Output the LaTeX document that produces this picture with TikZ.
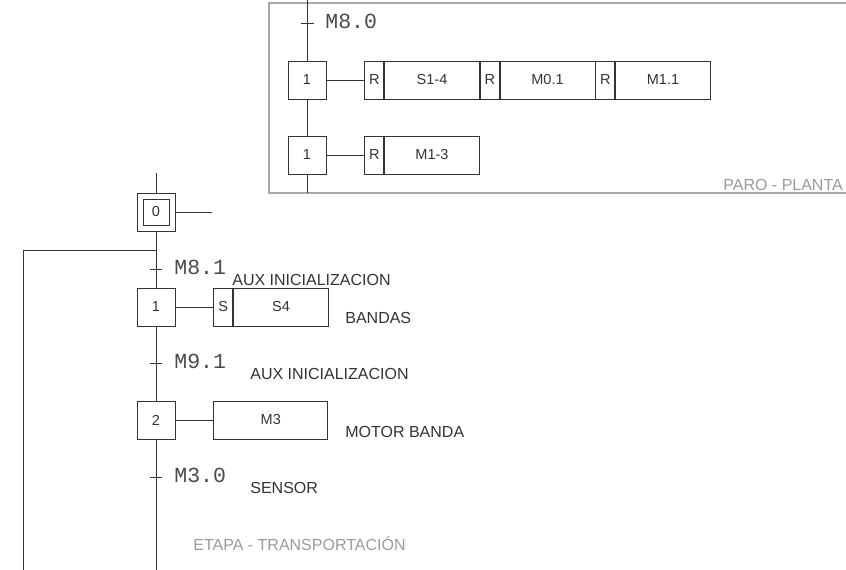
\documentclass[tikz,border=0pt]{standalone}
\usepackage{fontspec}
\setmainfont{Liberation Sans}
\newfontfamily\plcmono{Liberation Mono}
\usetikzlibrary{positioning}
\tikzset{every picture/.style={line width=0.75pt}}
\definecolor{linegray}{HTML}{333333}
\definecolor{monogray}{HTML}{4A4A4A}
\definecolor{framegray}{HTML}{A8A8A8}
\definecolor{titlegray}{HTML}{9A9A9A}

\begin{document}
\begin{tikzpicture}[x=1pt, y=-1pt, every node/.style={text=linegray}, draw=linegray,
        stepbox/.style={draw=linegray, minimum width=38pt, minimum height=38pt, inner sep=0pt, font=\fontsize{14.5}{16}\selectfont},
        qualbox/.style={draw=linegray, minimum width=19pt, minimum height=38pt, inner sep=0pt, font=\fontsize{14.5}{16}\selectfont},
        actbox/.style={draw=linegray, minimum width=95pt, minimum height=38pt, inner sep=0pt, font=\fontsize{14.5}{16}\selectfont},
        trans/.style={anchor=base west, inner sep=0pt, text=monogray, font=\plcmono\fontsize{21.5}{22}\selectfont},
        note/.style={anchor=base west, inner sep=0pt, font=\fontsize{16}{18}\selectfont},
        zone/.style={anchor=base west, inner sep=0pt, text=titlegray, font=\fontsize{16}{18}\selectfont}]
        \clip (0,0) rectangle (846,570);
        % PARO - PLANTA
        \draw[framegray, line width=1.3pt] (880,3) -- (269,3) -- (269,193) -- (880,193);
        \node[zone] (zparo) at (723,190) {PARO - PLANTA};
        \node[stepbox] (p1) at (307,80) {1};
        \node[stepbox] (p2) at (307,155) {1};
        \coordinate (ptop) at (307,-2);
        \coordinate (pbot) at (307,193);
        \draw (ptop) -- (p1) -- (p2) -- (pbot);
        \coordinate (pt0) at (307,23);
        \draw ([xshift=-6.5pt]pt0) -- ([xshift=6.5pt]pt0);
        \node[trans] (lp0) at (325,28) {M8.0};
        \node[qualbox, right=38pt of p1] (p1q1) {R};
        \node[actbox, right=0pt of p1q1] (p1a1) {S1-4};
        \node[qualbox, right=0pt of p1a1] (p1q2) {R};
        \node[actbox, right=0pt of p1q2] (p1a2) {M0.1};
        \node[qualbox, right=0pt of p1a2] (p1q3) {R};
        \node[actbox, right=0pt of p1q3] (p1a3) {M1.1};
        \draw (p1) -- (p1q1);
        \node[qualbox, right=38pt of p2] (p2q1) {R};
        \node[actbox, right=0pt of p2q1] (p2a1) {M1-3};
        \draw (p2) -- (p2q1);
        % ETAPA - TRANSPORTACION
        \node[stepbox] (s0) at (156,212) {};
        \node[draw=linegray, minimum size=26pt, inner sep=0pt, font=\fontsize{14.5}{16}\selectfont] (s0i) at (s0) {0};
        \node[stepbox] (s1) at (156,307) {1};
        \node[stepbox] (s2) at (156,420) {2};
        \coordinate (stop) at (156,173);
        \coordinate (sbot) at (156,572);
        \coordinate (s0out) at (212,212);
        \coordinate (loop) at (156,250);
        \coordinate (loopbot) at (23,572);
        \draw (stop) -- (s0) -- (s1) -- (s2) -- (sbot);
        \draw (s0) -- (s0out);
        \draw (loop) -| (loopbot);
        \foreach \ty in {269,363,477}
            \draw (150,\ty) -- (162,\ty);
        \node[trans] (ls1) at (174,274) {M8.1};
        \node[trans] (ls2) at (174,368) {M9.1};
        \node[trans] (ls3) at (174,482) {M3.0};
        \node[qualbox, right=38pt of s1] (s1q1) {S};
        \node[actbox, right=0pt of s1q1] (s1a1) {S4};
        \node[actbox, minimum width=114pt, right=38pt of s2] (s2a1) {M3};
        \draw (s1) -- (s1q1);
        \draw (s2) -- (s2a1);
        \node[note] (n1) at (232,285) {AUX INICIALIZACION};
        \node[note] (n2) at (345,323) {BANDAS};
        \node[note] (n3) at (250,379) {AUX INICIALIZACION};
        \node[note] (n4) at (345,437) {MOTOR BANDA};
        \node[note] (n5) at (250,493) {SENSOR};
        \node[zone] (zetapa) at (193,550) {ETAPA - TRANSPORTACIÓN};
    \end{tikzpicture}
\end{document}
